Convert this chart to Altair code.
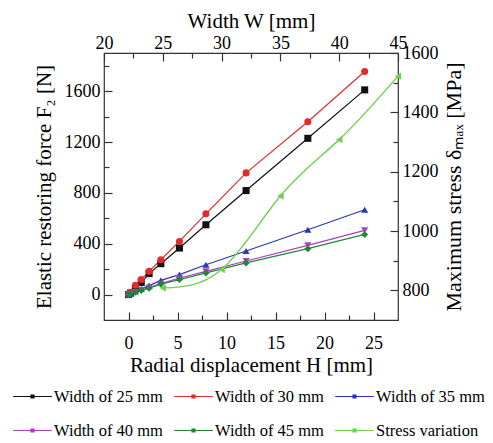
import altair as alt
import pandas as pd

# ---- data ----
H = [0, 0.2, 0.7, 1.3, 2.1, 3.3, 5.2, 7.9, 12.0, 18.3, 24.1]
F_W25 = [0, 12, 45, 95, 165, 243, 366, 549, 818, 1229, 1610]
F_W30 = [0, 18, 73, 118, 183, 274, 418, 635, 957, 1359, 1754]
F_W35 = [0, 8, 25, 45, 70, 112, 157, 235, 343, 510, 667]
F_W40 = [0, 6, 20, 35, 55, 86, 130, 183, 264, 387, 505]
F_W45 = [0, 5, 18, 32, 50, 82, 118, 170, 249, 361, 473]
W = [25, 30, 35, 40, 45]
S = [808, 870, 1118, 1308, 1522]

series = ["Width of 25 mm", "Width of 30 mm", "Width of 35 mm",
          "Width of 40 mm", "Width of 45 mm", "Stress variation"]
colors = ["#111111", "#e32b2b", "#2c36b4", "#b03cc4", "#1d8a33", "#6fcf4f"]
shapes = ["square", "circle", "triangle-up", "triangle-down", "diamond", "triangle-left"]

H_major = [0, 5, 10, 15, 20, 25]
H_minor = [2.5, 7.5, 12.5, 17.5, 22.5]
F_major = [0, 400, 800, 1200, 1600]
F_minor = [200, 600, 1000, 1400, 1800]
W_major = [20, 25, 30, 35, 40, 45]
W_minor = [22.5, 27.5, 32.5, 37.5, 42.5]
S_major = [800, 1000, 1200, 1400, 1600]
S_minor = [900, 1100, 1300, 1500]

rows = []
for name, vals in zip(series[:5], [F_W25, F_W30, F_W35, F_W40, F_W45]):
    for h, f in zip(H, vals):
        rows.append({"H": h, "F": f, "series": name})
force_df = pd.DataFrame(rows)
stress_df = pd.DataFrame({"W": W, "S": S, "series": [series[5]] * len(W)})

FONT = "Liberation Serif"

xH = alt.Scale(domain=[-2.5, 27.5], nice=False, zero=False)
yF = alt.Scale(domain=[-200, 1900], nice=False, zero=False)
xW = alt.Scale(domain=[20, 45], nice=False, zero=False)
yS = alt.Scale(domain=[700, 1600], nice=False, zero=False)


def tk(n):
    return alt.ExprRef(expr=str(-n))


legend = alt.Legend(
    orient="none", legendX=-85, legendY=330, columns=3, direction="horizontal",
    title=None, labelFont=FONT, labelFontSize=16.5, labelColor="black",
    symbolType="M-1.55,0H1.55M-0.12,-0.12H0.12V0.12H-0.12Z",
    symbolSize=625, symbolStrokeWidth=1.2, labelOffset=8,
    columnPadding=8, rowPadding=12, labelLimit=300,
)
color_enc = alt.Color("series:N", scale=alt.Scale(domain=series, range=colors), legend=legend)

ax_bottom = alt.Axis(orient="bottom", values=H_major, tickSize=tk(8), domain=False, grid=False,
                     labelPadding=22, labelFlush=False, format="d",
                     title="Radial displacement H [mm]", titlePadding=2)
ax_left = alt.Axis(orient="left", values=F_major, tickSize=tk(8), domain=False, grid=False,
                   labelPadding=12, format="d",
                   title="Elastic restoring force F₂ [N]", titlePadding=10)
ax_top = alt.Axis(orient="top", values=W_major, tickSize=tk(8), domain=False, grid=False,
                  labelPadding=9, labelFlush=False, format="d",
                  title="Width W [mm]", titlePadding=3)
ax_right = alt.Axis(orient="right", values=S_major, tickSize=tk(8), domain=False, grid=False,
                    labelPadding=12, format="d",
                    title="Maximum stress δₘₐₓ [MPa]", titlePadding=5, titleFontSize=22,
                    titleAngle=270, titleBaseline="top")


def minor_axis(orient, vals):
    return alt.Axis(orient=orient, values=vals, tickSize=tk(5), domain=False, grid=False,
                    labels=False, title=None)


fx = alt.X("H:Q", scale=xH, axis=ax_bottom)
fy = alt.Y("F:Q", scale=yF, axis=ax_left)
force_layers = [alt.Chart(force_df).mark_line(strokeWidth=1.2).encode(x=fx, y=fy, color=color_enc)]
for name, shp in zip(series[:5], shapes[:5]):
    force_layers.append(
        alt.Chart(force_df).transform_filter(alt.datum.series == name)
        .mark_point(shape=shp, filled=True, size=50, opacity=1)
        .encode(x=fx, y=fy, color=color_enc)
    )
force = alt.layer(*force_layers)

minor_hf = alt.Chart(force_df).mark_point(opacity=0, size=1).encode(
    x=alt.X("H:Q", scale=xH, axis=minor_axis("bottom", H_minor)),
    y=alt.Y("F:Q", scale=yF, axis=minor_axis("left", F_minor)),
)

sx = alt.X("W:Q", scale=xW, axis=ax_top)
sy = alt.Y("S:Q", scale=yS, axis=ax_right)
stress = alt.layer(
    alt.Chart(stress_df).mark_line(strokeWidth=1.4, interpolate="natural").encode(x=sx, y=sy, color=color_enc),
    alt.Chart(stress_df).mark_point(shape=shapes[5], filled=True, size=55, opacity=1).encode(x=sx, y=sy, color=color_enc),
)

minor_ws = alt.Chart(stress_df).mark_point(opacity=0, size=1).encode(
    x=alt.X("W:Q", scale=xW, axis=minor_axis("top", W_minor)),
    y=alt.Y("S:Q", scale=yS, axis=minor_axis("right", S_minor)),
)

chart = alt.layer(force, minor_hf, stress, minor_ws).resolve_scale(
    x="independent", y="independent"
).properties(
    width=294, height=267,
    autosize=alt.AutoSizeParams(type="none"),
    padding={"left": 104, "top": 53, "right": 95, "bottom": 123},
).configure_view(
    stroke="#333333", strokeWidth=1.2
).configure_axis(
    labelFont=FONT, titleFont=FONT, labelFontSize=18, titleFontSize=21,
    titleFontWeight="normal", labelColor="black", titleColor="black",
    tickColor="#333333", tickWidth=1.2,
)

chart.save("out.html", embed_options={"renderer": "svg", "actions": False})
